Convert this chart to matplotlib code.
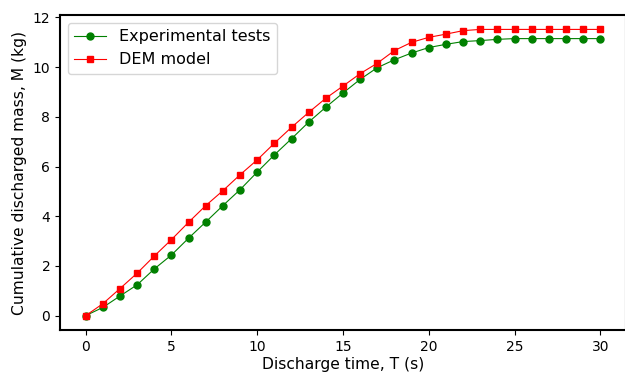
import matplotlib
matplotlib.use("Agg")
import matplotlib.pyplot as plt

time_s = list(range(31))
experimental = [0, 0.33, 0.79, 1.24, 1.88, 2.44, 3.12, 3.77, 4.43, 5.07,
                5.78, 6.47, 7.12, 7.79, 8.39, 8.96, 9.51, 9.98, 10.30, 10.57,
                10.79, 10.92, 11.03, 11.07, 11.12, 11.15, 11.15, 11.15, 11.15,
                11.15, 11.15]
dem_model = [0, 0.48, 1.09, 1.71, 2.40, 3.06, 3.76, 4.43, 5.03, 5.67,
             6.27, 6.94, 7.58, 8.18, 8.75, 9.24, 9.74, 10.16, 10.67, 11.00,
             11.20, 11.33, 11.47, 11.52, 11.52, 11.52, 11.52, 11.52, 11.52,
             11.52, 11.52]

fig = plt.figure(figsize=(6.25, 3.76), dpi=100)
ax = fig.add_axes([0.096, 0.1223, 0.9056, 0.8378])

ax.plot(time_s, experimental, color="green", marker="o", markersize=5,
        linewidth=0.8, label="Experimental tests")
ax.plot(time_s, dem_model, color="red", marker="s", markersize=5,
        linewidth=0.8, label="DEM model")

ax.set_xlim(-1.5, 31.5)
ax.set_ylim(-0.58, 12.1)
ax.set_xticks([0, 5, 10, 15, 20, 25, 30])
ax.set_yticks([0, 2, 4, 6, 8, 10, 12])
ax.set_xlabel("Discharge time, T (s)", fontsize=11.2, labelpad=2)
ax.set_ylabel("Cumulative discharged mass, M (kg)", fontsize=11.2, labelpad=4)
ax.tick_params(labelsize=10)
for s in ax.spines.values():
    s.set_linewidth(1.5)

ax.legend(loc="upper left", fontsize=11.5)

fig.savefig("out.png", dpi=100)
